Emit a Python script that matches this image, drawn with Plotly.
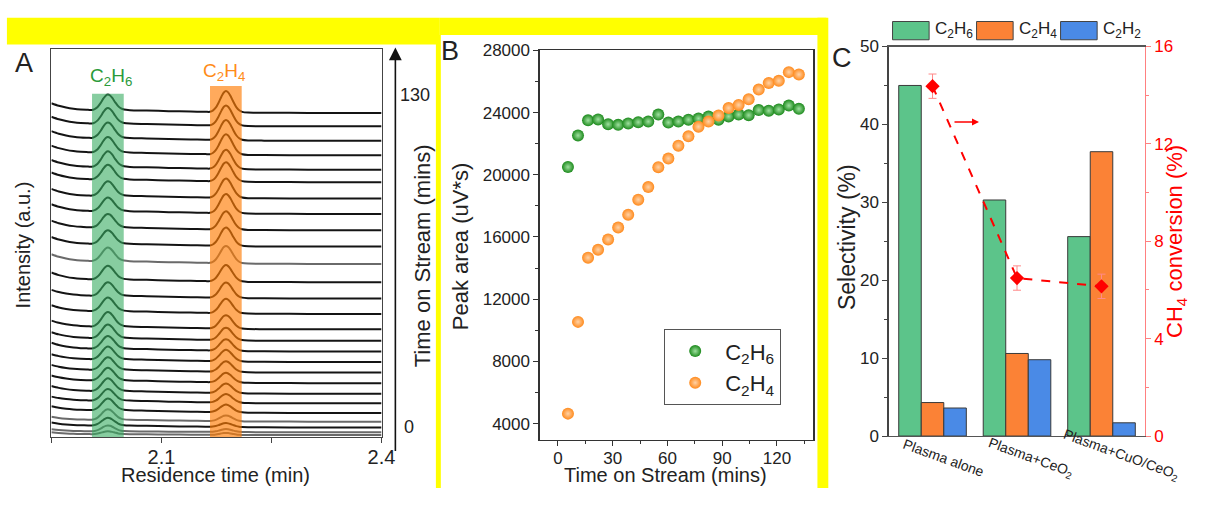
import plotly.graph_objects as go

# figure kept a few px shorter than the window so the page never overflows
W, H = 1209, 498
FONT = "Arial, Liberation Sans, sans-serif"

# ---------------- Panel A : stacked chromatograms ----------------
rt_grid = [1.950, 1.960, 1.970, 1.980, 1.990, 2.000, 2.005, 2.009, 2.013, 2.017,
           2.021, 2.024, 2.027, 2.030, 2.033, 2.037, 2.041, 2.045, 2.049, 2.057,
           2.080, 2.110, 2.140, 2.160, 2.166, 2.170, 2.174, 2.178, 2.182, 2.185,
           2.188, 2.191, 2.194, 2.198, 2.202, 2.206, 2.210, 2.218, 2.240, 2.300, 2.400]
tail_shape = [1.0, 0.62, 0.36, 0.18, 0.07, 0.02, 0, 0, 0, 0,
              0, 0, 0, 0, 0, 0, 0, 0, 0, 0,
              0, 0, 0, 0, 0, 0, 0, 0, 0, 0,
              0, 0, 0, 0, 0, 0, 0, 0, 0, 0, 0]
c2h6_shape = [0, 0, 0, 0, 0, 0, 0, 0.06, 0.2, 0.45,
              0.75, 0.93, 1.0, 0.94, 0.78, 0.5, 0.25, 0.1, 0.03, 0,
              0, 0, 0, 0, 0, 0, 0, 0, 0, 0,
              0, 0, 0, 0, 0, 0, 0, 0, 0, 0, 0]
c2h4_shape = [0, 0, 0, 0, 0, 0, 0, 0, 0, 0,
              0, 0, 0, 0, 0, 0, 0, 0, 0, 0,
              0, 0, 0, 0, 0, 0.06, 0.2, 0.45, 0.75, 0.93,
              1.0, 0.94, 0.78, 0.5, 0.25, 0.1, 0.03, 0, 0, 0, 0]
drift_shape = [1, 1, 1, 1, 1, 1, 1, 1, 1, 1,
               1, 1, 1, 1, 1, 1, 1, 1, 1, 0.95,
               0.8, 0.6, 0.45, 0.38, 0.36, 0.34, 0.32, 0.3, 0.28, 0.26,
               0.24, 0.22, 0.2, 0.18, 0.16, 0.15, 0.14, 0.1, 0.05, 0, 0]
trace_base = [337, 323, 308, 293, 278, 265, 248, 232, 215, 198, 180, 161, 144, 128,
              112, 100, 89, 78, 67, 56, 45, 35, 25, 16, 10, 5, 2]
trace_tail = [7, 7, 7, 7, 7, 7, 7, 7, 7, 7, 7, 7, 6, 6, 6, 6, 6, 5, 5, 5, 5, 4, 4, 3, 3, 2, 2]
trace_h6 = [16, 16, 16, 16, 16, 15, 15, 14, 14, 14, 14, 14, 14, 14, 15, 14, 13, 13, 13,
            13, 13, 12, 12, 11, 8, 6, 3]
trace_h4 = [22, 21, 21, 21, 20, 20, 20, 20, 19, 19, 18, 17, 16, 15, 14, 13, 12, 12, 11,
            10, 10, 9, 8, 6, 4, 3, 2]
trace_drift = [3, 3, 3, 3, 3, 3, 3, 3, 3, 3, 3, 3, 3, 3, 3, 3, 3, 3, 3, 3, 3, 3, 3, 2, 2, 1, 1]
gray_traces = [10, 23, 25, 26]
c2h6_window = [2.0054, 2.0486]
c2h4_window = [2.1662, 2.2094]
time_labels = ["130", "0"]

# ---------------- Panel B : peak areas ----------------
time_on_stream = [5.5, 11, 16.5, 22, 27.5, 33, 38.5, 44, 49.5, 55, 60.5, 66, 71.5, 77,
                  82.5, 88, 93.5, 99, 104.5, 110, 115.5, 121, 126.5, 132]
c2h6_area = [20500, 22530, 23500, 23560, 23250, 23210, 23300, 23380, 23420, 23870,
             23360, 23420, 23540, 23620, 23750, 23540, 23750, 23870, 23830, 24160,
             24120, 24200, 24450, 24240]
c2h4_area = [4640, 10540, 14670, 15180, 15840, 16610, 17430, 18400, 19210, 20490,
             21040, 21870, 22470, 23090, 23420, 23810, 24290, 24490, 24860, 25480,
             25900, 26040, 26600, 26450]

# ---------------- Panel C : selectivity / conversion ----------------
catalysts = ["Plasma alone", "Plasma+CeO<sub>2</sub>", "Plasma+CuO/CeO<sub>2</sub>"]
sel_c2h6 = [45.0, 30.3, 25.6]
sel_c2h4 = [4.3, 10.6, 36.5]
sel_c2h2 = [3.6, 9.8, 1.7]
ch4_conv = [14.37, 6.49, 6.15]
ch4_err = [0.5, 0.5, 0.5]


def px(x):
    return x / W


def py(y):
    return 1 - y / H


fig = go.Figure()

for i in range(len(trace_base)):
    yv = [trace_base[i] + trace_tail[i] * ts + trace_h6[i] * s6 + trace_h4[i] * s4
          + trace_drift[i] * sd
          for ts, s6, s4, sd in zip(tail_shape, c2h6_shape, c2h4_shape, drift_shape)]
    col = "#6a6a6a" if i in gray_traces else "#141414"
    fig.add_trace(go.Scatter(x=rt_grid, y=yv, mode="lines", xaxis="x", yaxis="y",
                             line=dict(color=col, width=2, shape="spline", smoothing=0.8),
                             showlegend=False, hoverinfo="skip"))

fig.add_trace(go.Scatter(x=time_on_stream, y=c2h6_area, mode="markers", xaxis="x2", yaxis="y2",
                         name="C<sub>2</sub>H<sub>6</sub>",
                         marker=dict(size=12, color="#1c8a1c",
                                     gradient=dict(type="radial", color="#9fe09f"))))
fig.add_trace(go.Scatter(x=time_on_stream, y=c2h4_area, mode="markers", xaxis="x2", yaxis="y2",
                         name="C<sub>2</sub>H<sub>4</sub>",
                         marker=dict(size=12, color="#ff8a1c",
                                     gradient=dict(type="radial", color="#ffd2a6"))))

bar_cols = ["#5cc48a", "#fb8236", "#4a8ae6"]
for vals, col, nm in zip([sel_c2h6, sel_c2h4, sel_c2h2], bar_cols,
                         ["C<sub>2</sub>H<sub>6</sub>", "C<sub>2</sub>H<sub>4</sub>",
                          "C<sub>2</sub>H<sub>2</sub>"]):
    fig.add_trace(go.Bar(x=catalysts, y=vals, xaxis="x3", yaxis="y3", name=nm,
                         marker=dict(color=col, line=dict(color="#3a3a3a", width=1)),
                         showlegend=False))
fig.add_trace(go.Scatter(x=catalysts, y=ch4_conv, xaxis="x3", yaxis="y4", mode="lines+markers",
                         line=dict(color="#ff0000", width=2, dash="dash"),
                         marker=dict(symbol="diamond", size=11, color="#ff0000"),
                         error_y=dict(type="data", array=ch4_err, color="#ff8a8a",
                                      thickness=1, width=4),
                         showlegend=False))

axis_common = dict(showgrid=False, zeroline=False, showline=True, linewidth=1.3)

fig.update_layout(
    width=W, height=H, autosize=False,
    margin=dict(l=0, r=0, t=0, b=0),
    paper_bgcolor="white", plot_bgcolor="white",
    font=dict(family=FONT, color="#222"),
    barmode="group", bargap=0.2, bargroupgap=0,
    xaxis=dict(domain=[px(52), px(386)], range=[1.95, 2.4], anchor="y",
               mirror=True, linecolor="#444", ticks="outside", ticklen=5, tickcolor="#444",
               tickvals=[1.95, 2.1, 2.25, 2.4], ticktext=["", "2.1", "", "2.4"],
               ticklabelstandoff=-3, tickfont=dict(size=20), **axis_common),
    yaxis=dict(domain=[py(445), py(42)], range=[0, 403], anchor="x",
               mirror=True, linecolor="#444", showticklabels=False, ticks="",
               **axis_common),
    xaxis2=dict(domain=[px(546), px(823)], range=[-10, 140], anchor="y2",
                mirror=True, linecolor="#333", ticks="outside", ticklen=5, tickcolor="#333",
                tick0=0, dtick=30, ticklabelstandoff=-3, tickfont=dict(size=17),
                minor=dict(dtick=15, tick0=0, ticks="outside", ticklen=3, tickcolor="#333"),
                **axis_common),
    yaxis2=dict(domain=[py(448), py(43)], range=[2950, 28000], anchor="x2",
                mirror=True, linecolor="#333", ticks="outside", ticklen=5, tickcolor="#333",
                tick0=4000, dtick=4000, tickformat="d", tickfont=dict(size=17),
                minor=dict(dtick=2000, tick0=4000, ticks="outside", ticklen=3, tickcolor="#333"),
                **axis_common),
    xaxis3=dict(domain=[px(899), px(1158)], range=[-0.52, 2.51], anchor="y3", type="category",
                mirror=True, linecolor="#555", ticks="", showticklabels=False, **axis_common),
    yaxis3=dict(domain=[py(444), py(39)], range=[0, 50], anchor="x3",
                linecolor="#444", ticks="outside", ticklen=5, tickcolor="#444",
                tick0=0, dtick=10, tickfont=dict(size=17),
                minor=dict(dtick=5, ticks="outside", ticklen=3, tickcolor="#444"),
                **axis_common),
    yaxis4=dict(overlaying="y3", side="right", range=[0, 16], anchor="x3",
                linecolor="#ff8080", ticks="outside", ticklen=5, tickcolor="#ff8080",
                tick0=0, dtick=4, tickfont=dict(size=17, color="#ff0000"),
                minor=dict(dtick=2, ticks="outside", ticklen=3, tickcolor="#ff8080"),
                **axis_common),
    legend=dict(x=px(672), y=py(333), xanchor="left", yanchor="top",
                bordercolor="#555", borderwidth=1, bgcolor="white",
                font=dict(size=22, color="#222"), itemwidth=50, tracegroupgap=0),
)

shapes = []
shapes.append(dict(type="rect", xref="x", yref="y", x0=c2h6_window[0], x1=c2h6_window[1],
                   y0=0, y1=357, fillcolor="rgb(55,172,97)", opacity=0.6,
                   line=dict(width=0), layer="above"))
shapes.append(dict(type="rect", xref="x", yref="y", x0=c2h4_window[0], x1=c2h4_window[1],
                   y0=0, y1=365, fillcolor="rgb(255,125,5)", opacity=0.65,
                   line=dict(width=0), layer="above"))
for x0, y0, x1, y1 in [(7, 9, 445, 37), (445, 9, 836, 27), (441, 27, 446, H), (827, 9, 838, H)]:
    shapes.append(dict(type="rect", xref="paper", yref="paper", x0=px(x0), x1=px(x1),
                       y0=py(y1), y1=py(y0), fillcolor="#ffff00", line=dict(width=0),
                       layer="above"))
leg_names = ["C<sub>2</sub>H<sub>6</sub>", "C<sub>2</sub>H<sub>4</sub>", "C<sub>2</sub>H<sub>2</sub>"]
leg_x = [903, 988, 1073]
for lx, col in zip(leg_x, bar_cols):
    shapes.append(dict(type="rect", xref="paper", yref="paper", x0=px(lx), x1=px(lx + 37),
                       y0=py(32), y1=py(13), fillcolor=col, line=dict(color="#444", width=1)))
fig.update_layout(shapes=shapes)

ann = []


def text(x, y, s, size, color="#222", angle=0, xanchor="center", yanchor="middle"):
    ann.append(dict(x=px(x), y=py(y), xref="paper", yref="paper", text=s, showarrow=False,
                    font=dict(family=FONT, size=size, color=color), textangle=angle,
                    xanchor=xanchor, yanchor=yanchor, borderpad=0))


text(24, 56, "A", 27)
text(455, 44, "B", 27)
text(852, 51, "C", 27)
text(218, 497, "Residence time (min)", 20, yanchor="bottom")
text(23, 245, "Intensity (a.u.)", 20, angle=-90)
text(427, 257, "Time on Stream (mins)", 22, angle=-90)
text(420, 89, time_labels[0], 18)
text(414, 435, time_labels[1], 18)
text(112, 71, "C<sub>2</sub>H<sub>6</sub>", 19, color="#2a9a3a")
text(227, 66, "C<sub>2</sub>H<sub>4</sub>", 19, color="#ff8c1a")
text(466, 247, "Peak area (uV*s)", 22, angle=-90)
text(673, 497, "Time on Stream (mins)", 20, yanchor="bottom")
text(857, 237, "Selectivity (%)", 23, angle=-90)
text(1190, 242, "CH<sub>4</sub> conversion (%)", 22, color="#ff0000", angle=-90)
for lx, nm in zip(leg_x, leg_names):
    text(lx + 42, 22, nm, 17, xanchor="left")
cat_label_pos = [(955, 467), (1043, 467), (1134, 464)]
for (cx, cy), nm in zip(cat_label_pos, catalysts):
    text(cx, cy, nm, 14, angle=20)

ann.append(dict(x=px(400), y=py(40), xref="paper", yref="paper", ax=0, ay=405,
                showarrow=True, arrowhead=2, arrowsize=1.6, arrowwidth=1.6,
                arrowcolor="#111", text=""))
ann.append(dict(x=0.55, y=12.9, xref="x3", yref="y4", ax=-26, ay=0, showarrow=True,
                arrowhead=2, arrowsize=1, arrowwidth=1.4, arrowcolor="#ff0000", text=""))
fig.update_layout(annotations=ann)

post_js = """
(function(){
  document.documentElement.style.overflow = 'hidden';
  document.body.style.overflow = 'hidden';
  document.body.style.margin = '0';
})();
"""

fig.write_html("out.html", config={"staticPlot": True, "displayModeBar": False},
               post_script=post_js)
